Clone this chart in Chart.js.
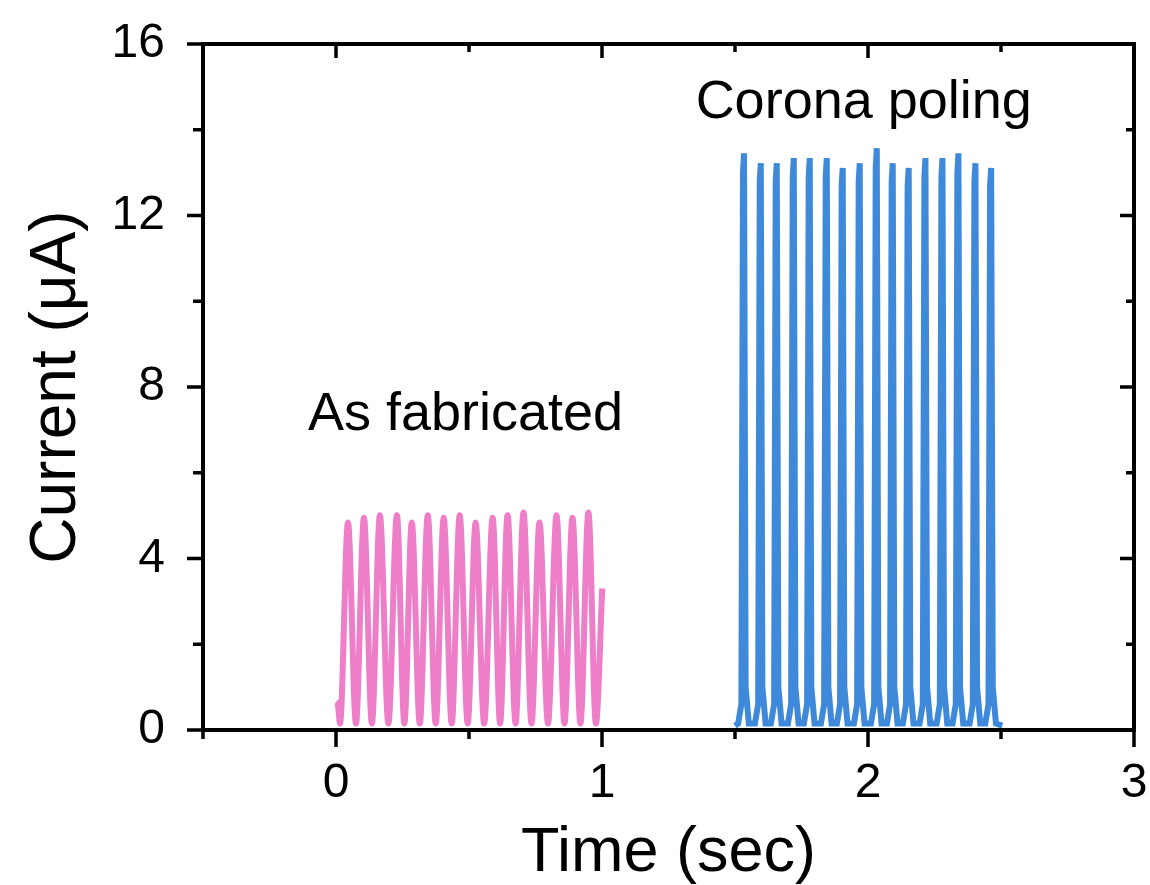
<!DOCTYPE html>
<html lang="en">
  <head>
    <meta charset="UTF-8" />
    <title>Current vs time</title>
    <script src="https://cdn.jsdelivr.net/npm/chart.js"></script>
    <style>
      body { margin: 0; background: #fff; }
    </style>
  </head>
  <body>
    <canvas id="chart" width="1150" height="885"></canvas>
    <script>
      // tick labels
      const xLabels = [0, 1, 2, 3];
      const yLabels = [0, 4, 8, 12, 16];
      // frame tick marks (every half second / every 2 uA)
      const xMarks = [-0.5, 0, 0.5, 1, 1.5, 2, 2.5, 3];
      const yMarks = [0, 2, 4, 6, 8, 10, 12, 14, 16];

      // "As fabricated" trace (start, minima and peaks)
      const pinkTime = [
        0, 0.007, 0.015, 0.045, 0.075, 0.105, 0.135, 0.165, 0.197, 0.229,
        0.257, 0.285, 0.315, 0.345, 0.375, 0.405, 0.435, 0.465, 0.495, 0.525,
        0.557, 0.589, 0.617, 0.645, 0.675, 0.705, 0.735, 0.765, 0.797, 0.829,
        0.859, 0.889, 0.919, 0.949, 0.977, 1.001,
      ];
      const pinkCurrent = [
        0.65, 0.6, 0.15, 4.84, 0.15, 4.95, 0.15, 5.01, 0.15, 5.01,
        0.15, 4.84, 0.15, 5.01, 0.15, 4.95, 0.15, 5.01, 0.15, 4.84,
        0.15, 4.95, 0.15, 5.01, 0.15, 5.07, 0.15, 4.84, 0.15, 5.01,
        0.15, 4.95, 0.15, 5.07, 0.15, 3.3,
      ];

      // "Corona poling" trace: foot, edge, peak, fall, baseline for each spike
      const blueTime = [
        1.5,
        1.512, 1.524, 1.530, 1.534, 1.540, 1.552,
        1.575, 1.587, 1.593, 1.597, 1.603, 1.615,
        1.635, 1.647, 1.653, 1.657, 1.663, 1.675,
        1.699, 1.711, 1.717, 1.721, 1.727, 1.739,
        1.759, 1.771, 1.777, 1.781, 1.787, 1.799,
        1.823, 1.835, 1.841, 1.845, 1.851, 1.863,
        1.883, 1.895, 1.901, 1.905, 1.911, 1.923,
        1.947, 1.959, 1.965, 1.969, 1.975, 1.987,
        2.011, 2.023, 2.029, 2.033, 2.039, 2.051,
        2.071, 2.083, 2.089, 2.093, 2.099, 2.111,
        2.131, 2.143, 2.149, 2.153, 2.159, 2.171,
        2.194, 2.206, 2.212, 2.216, 2.222, 2.234,
        2.258, 2.270, 2.276, 2.280, 2.286, 2.298,
        2.318, 2.330, 2.336, 2.340, 2.346, 2.358,
        2.382, 2.394, 2.400, 2.404, 2.410, 2.422,
        2.441, 2.453, 2.459, 2.463, 2.469, 2.481,
        2.505,
      ];
      const blueCurrent = [
        0.1,
        0.15, 0.6, 13.0, 13.45, 1.0, 0.15,
        0.15, 0.6, 12.8, 13.22, 1.0, 0.15,
        0.15, 0.6, 12.8, 13.22, 1.0, 0.15,
        0.15, 0.6, 12.9, 13.34, 1.0, 0.15,
        0.15, 0.6, 12.9, 13.34, 1.0, 0.15,
        0.15, 0.6, 12.9, 13.34, 1.0, 0.15,
        0.15, 0.6, 12.7, 13.11, 1.0, 0.15,
        0.15, 0.6, 12.8, 13.22, 1.0, 0.15,
        0.15, 0.6, 13.1, 13.57, 1.0, 0.15,
        0.15, 0.6, 12.8, 13.22, 1.0, 0.15,
        0.15, 0.6, 12.7, 13.11, 1.0, 0.15,
        0.15, 0.6, 12.9, 13.34, 1.0, 0.15,
        0.15, 0.6, 12.9, 13.34, 1.0, 0.15,
        0.15, 0.6, 13.0, 13.45, 1.0, 0.15,
        0.15, 0.6, 12.8, 13.22, 1.0, 0.15,
        0.15, 0.6, 12.7, 13.11, 1.0, 0.15,
        0.1,
      ];

      const notes = [
        { text: "As fabricated", x: 0.487, y: 7.0 },
        { text: "Corona poling", x: 1.984, y: 14.28 },
      ];

      const FONT = "'Liberation Sans', Arial, sans-serif";

      const toPoints = (xs, ys) => xs.map((x, i) => ({ x: x, y: ys[i] }));

      // no extra room for overhanging tick labels, the layout padding decides
      const noOverhang = (s) => {
        s.paddingLeft = 0;
        s.paddingRight = 0;
        s.paddingTop = 0;
        s.paddingBottom = 0;
      };

      // box round the plot with ticks out on left/bottom, in on top/right
      const framePlugin = {
        id: "frame",
        afterDatasetsDraw(chart) {
          const { ctx, chartArea, scales } = chart;
          const { left, right, top, bottom } = chartArea;
          ctx.save();
          ctx.strokeStyle = "#000";
          ctx.lineWidth = 4;
          ctx.lineCap = "butt";
          ctx.strokeRect(left, top, right - left, bottom - top);
          ctx.lineWidth = 3.5;
          ctx.beginPath();
          xMarks.forEach((v) => {
            const px = scales.x.getPixelForValue(v);
            const major = Number.isInteger(v);
            ctx.moveTo(px, bottom);
            ctx.lineTo(px, bottom + (major ? 17 : 9));
            if (v > -0.5 && v < 3) {
              ctx.moveTo(px, top);
              ctx.lineTo(px, top + (major ? 14 : 8));
            }
          });
          yMarks.forEach((v) => {
            const py = scales.y.getPixelForValue(v);
            const major = v % 4 === 0;
            ctx.moveTo(left, py);
            ctx.lineTo(left - (major ? 16 : 10), py);
            if (v > 0 && v < 16) {
              ctx.moveTo(right, py);
              ctx.lineTo(right - (major ? 14 : 8), py);
            }
          });
          ctx.stroke();

          ctx.fillStyle = "#000";
          ctx.font = "54px " + FONT;
          ctx.textAlign = "center";
          ctx.textBaseline = "alphabetic";
          notes.forEach((n) => {
            ctx.fillText(
              n.text,
              scales.x.getPixelForValue(n.x),
              scales.y.getPixelForValue(n.y)
            );
          });
          ctx.restore();
        },
      };

      new Chart(document.getElementById("chart"), {
        type: "line",
        data: {
          datasets: [
            {
              label: "As fabricated",
              data: toPoints(pinkTime, pinkCurrent),
              borderColor: "#EE7EC8",
              borderWidth: 6,
              pointRadius: 0,
              cubicInterpolationMode: "monotone",
            },
            {
              label: "Corona poling",
              data: toPoints(blueTime, blueCurrent),
              borderColor: "#3F89DB",
              borderWidth: 6,
              pointRadius: 0,
              tension: 0,
            },
          ],
        },
        options: {
          responsive: false,
          animation: false,
          devicePixelRatio: 1,
          layout: { padding: { top: 44, right: 16, left: 0, bottom: 0 } },
          plugins: { legend: { display: false }, tooltip: { enabled: false } },
          scales: {
            x: {
              type: "linear",
              min: -0.5,
              max: 3,
              grid: { display: false, drawTicks: false },
              border: { display: false },
              afterBuildTicks: (s) => {
                s.ticks = xLabels.map((v) => ({ value: v }));
              },
              afterFit: (s) => {
                s.height = 155;
                noOverhang(s);
              },
              ticks: {
                color: "#000",
                padding: 25,
                maxRotation: 0,
                font: { family: FONT, size: 48 },
              },
              title: {
                display: true,
                text: "Time (sec)",
                color: "#000",
                padding: 0,
                font: { family: FONT, size: 63, lineHeight: 1 },
              },
            },
            y: {
              min: 0,
              max: 16,
              grid: { display: false, drawTicks: false },
              border: { display: false },
              afterBuildTicks: (s) => {
                s.ticks = yLabels.map((v) => ({ value: v }));
              },
              afterFit: (s) => {
                s.width = 203;
                noOverhang(s);
              },
              ticks: {
                color: "#000",
                padding: 38,
                font: { family: FONT, size: 48 },
              },
              title: {
                display: true,
                text: "Current (μA)",
                color: "#000",
                padding: { top: 25, bottom: 0 },
                font: { family: FONT, size: 64, lineHeight: 1 },
              },
            },
          },
        },
        plugins: [framePlugin],
      });
    </script>
  </body>
</html>
